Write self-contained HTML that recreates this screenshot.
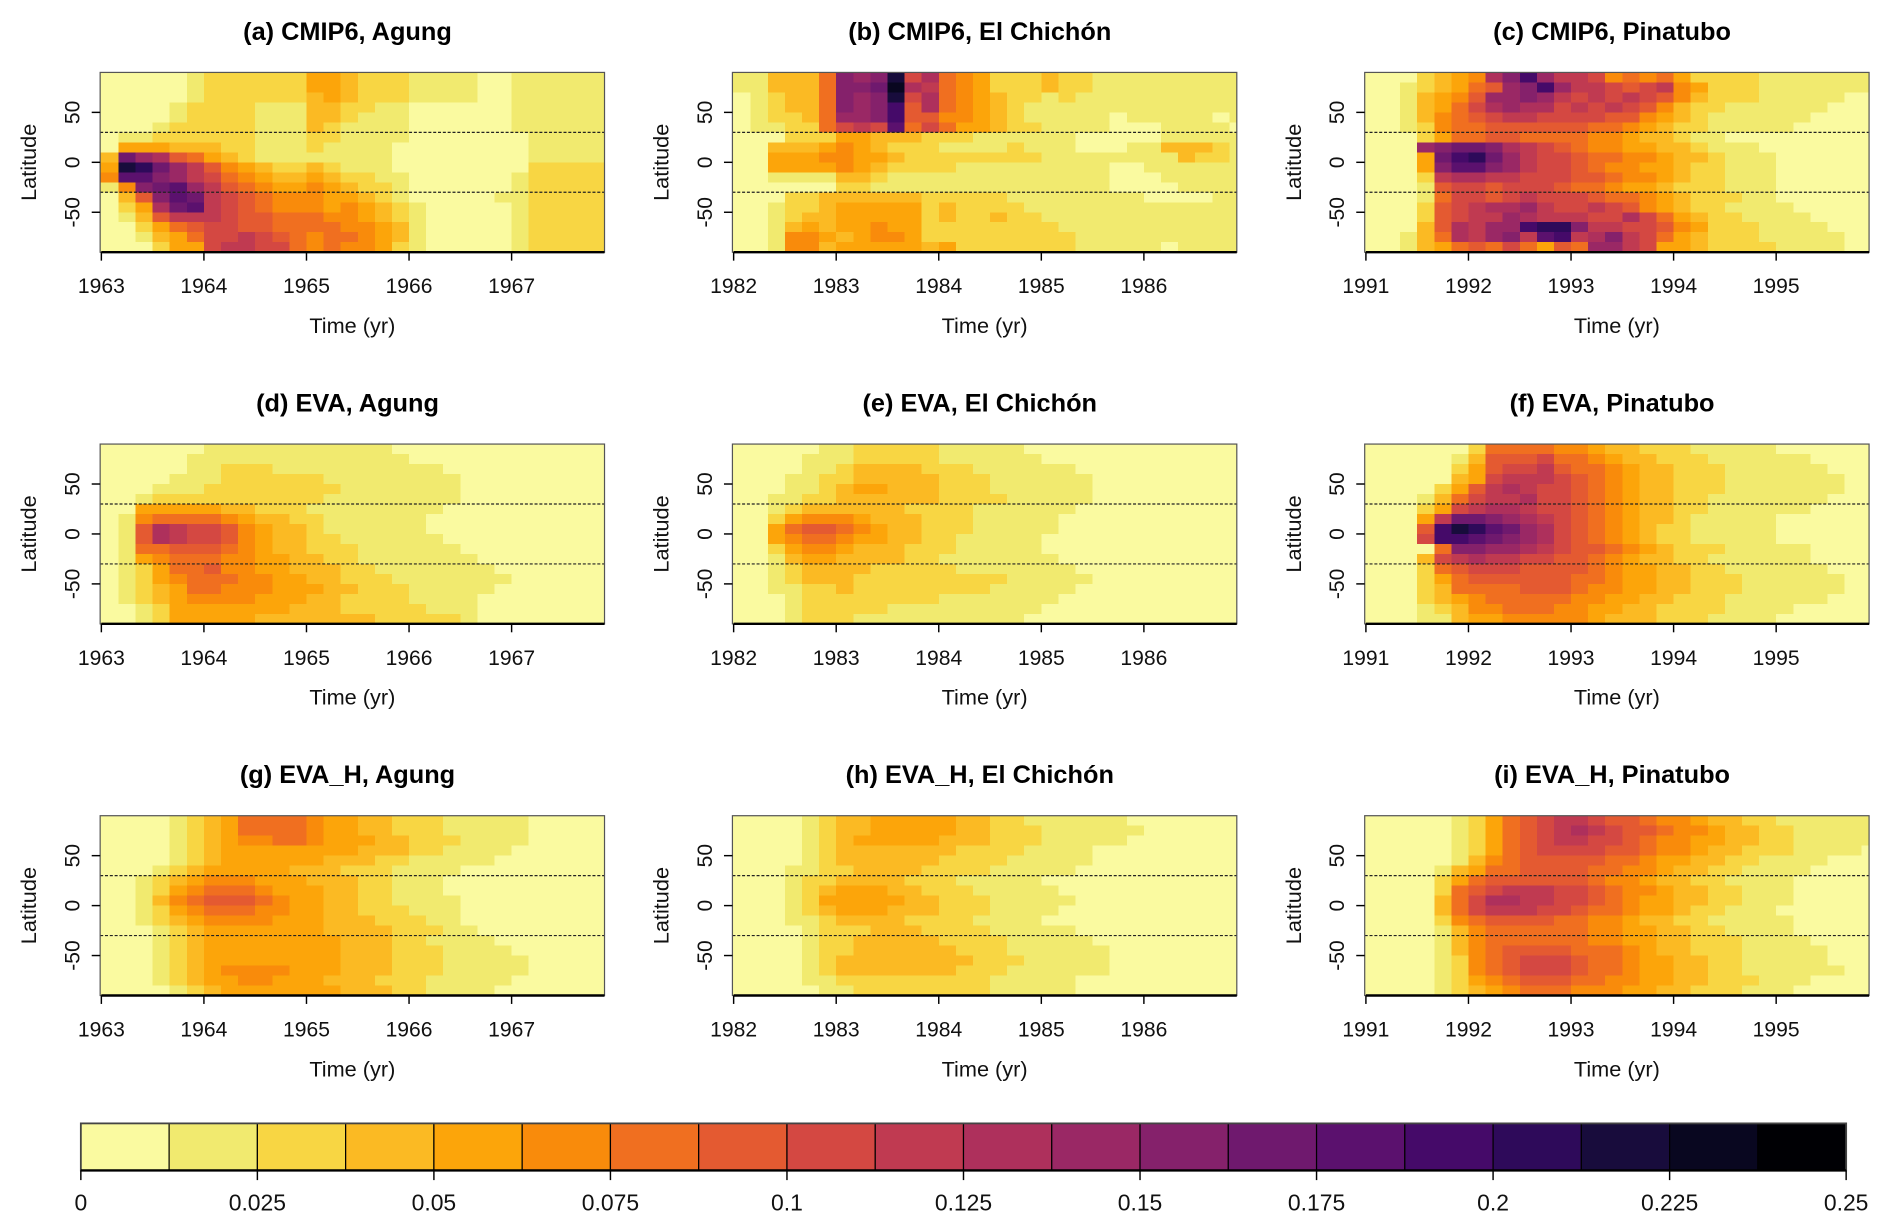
<!DOCTYPE html>
<html><head><meta charset="utf-8"><title>Aerosol optical depth panels</title>
<style>
html,body{margin:0;padding:0;background:#fff;}
svg{display:block;font-family:"Liberation Sans",Arial,sans-serif;}
</style></head>
<body>
<svg id="fig" xmlns="http://www.w3.org/2000/svg" width="1892" height="1229" viewBox="0 0 1568 1018.5">
<rect x="0" y="0" width="1568" height="1018.5" fill="#fff"/>
</svg>
<script>
// ---- chart data (levels: base-20 char, 0..j => bin index of 0.0125 width) ----
const panelTitles = ["(a) CMIP6, Agung","(b) CMIP6, El Chichón","(c) CMIP6, Pinatubo","(d) EVA, Agung","(e) EVA, El Chichón","(f) EVA, Pinatubo","(g) EVA_H, Agung","(h) EVA_H, El Chichón","(i) EVA_H, Pinatubo"];
const startYears = [1963,1982,1991,1963,1982,1991,1963,1982,1991];
const yearTicksOffset = [0,1,2,3,4];
const latTicks = [50,0,-50];
const latLines = [30,-30];
const colorbarTicks = ["0","0.025","0.05","0.075","0.1","0.125","0.15","0.175","0.2","0.225","0.25"];
const levelColors = ["#FAFAA0","#F1EA6F","#F8D643","#FBBA23","#FCA50A","#F98B0B","#F06F20","#E45A31","#D44842","#C03A51","#AE305C","#9A2865","#85216B","#6F196E","#5B116E","#450A69","#2E0A5A","#180C3C","#090720","#000004"];
const panelA = [
"000001222222443222111100111111","000001222222443222111100111111","000001222222343222111100111111","000012222111332211000000111111","000012222111332111000000111111","000122222111321111000000111111","011222222111221111000000011111","044433322111211110000000011111","3dba76432111111110000000011111","4hgdb9754322321110000000022222","5eecb9865433432211000000122222","15cdeb976544543221000000122222","037ced987655544321000001122222","024ade987655545432100000122222","013799987766655432100000122222","002467887766665543100000122222","001346889876566543100000122222","000244899886565542100000122222"];
const panelB = [
"113336cbch8a654222322111111111","113336ccdia9654222322111111111","012336cbch8a654322121111111111","012336cbcf7a654321111111111111","012236bbcf77554321111101111101","011226898e68644322111100011110","000222443332221111110000011111","003334543222111121110001133321","004445544322222222111111113221","004444543222211111111100111111","001111332111111111111100011111","000000221111111111111100001111","000223333332222211111111000011","001223444442322221111111111111","001233444442322322111111111111","001343445442222222211111111111","001554345542222222221111111111","001553444443422222221111101111"];
const panelC = [
"0002345acfb9985656422221111111","00123467bcfb998789542221111111","0013457bbcb9898987532221111100","0013468abaa8989875322111111000","0013567899888877543211111100000","0012566777777665432211111000000","0002466776666554332110000000000","000bcddca98765544332111000000","0004dfgdb98876655433211100000","0004ceecb98876554432211100000","00029aa99888776554322111000000","000178878887665443222111000000","000168878988876654322211000000","0002789aab98898754322111100000","00027899ba99988a86432211110000","00037a9bbfggc99887542221111000","00136a9bc9ef9ac986432221111100","0013467686476bb984432222111100"];
const panelD = [
"0000001111111111100000000000000","0000011111111111110000000000000","0000011222111111111100000000000","0000111222222111111110000000000","0001112222222211111110000000000","0012222222222111111110000000000","0044444332221111111100000000000","0156666543322111111000000000000","017a988754332111111000000000000","017a988754332211111100000000000","0166777654332221111110000000000","0145666554433221111111000000000","0124667554433322111111100000000","0124566655443322211111110000000","0123466555444332221111100000000","0123455554443322221111000000000","0012444444433322222111000000000","0012444443333333222221000000000"];
const panelE = [
"0000011222221111100000000000000","0000111222221111110000000000000","0000112333322211111100000000000","0001122333332221111110000000000","0001123443332221111110000000000","0011223333332222111110000000000","0012333333222211111100000000000","0024555433322211111000000000000","0046776543322211111000000000000","0045665443322111110000000000000","0024554333222111110000000000000","0013443333221111111000000000000","0012333322222111111100000000000","0012333222222222111110000000000","0011223222222221111100000000000","0001222222221111111000000000000","0001222221111111110000000000000","0001222111111111100000000000000"];
const panelF = [
"00000026666554332221111100000","00000137778665433222111111000","00000247889766543322211111100","00000348999876543322211111110","00002479a98876543322211111110","000136899a8876543322111111100","0002489aa98876543322111111000","00049ddcba9876543321111100000","0007fhgedba876543221111100000","0008ffedcba876543221111100000","00006ccbba98776543222111110000","000389a99887765433221111110000","000267888777765443322111111000","000246777777665443322211111100","000236666777655443322211111100","000234566666554433222111111000","000123556665544332222111100000","000113445555543332221111000000"];
const panelG = [
"00001234666654433222111110000000","00001234666654433222111110000000","00001234556654443322211110000000","00001234444444433322111100000000","00001234444443332211111000000000","00012344444333222111100000000000","00123455544433322111000000000000","00124566654443322111000000000000","00135677765443322111100000000000","00124566655443322211100000000000","00123455554443332221100000000000","00012344444443333222110000000000","00012344444444333221111000000000","00012344444444333222111100000000","00012344444444333222111110000000","00012345555444333222111110000000","00012344554443332221111100000000","00001234444444333221111000000000"];
const panelH = [
"00001233444443322111111000000000","00001233444443322211111100000000","00001234444433322211111000000000","00001233333332222111100000000000","00001233333322221111100000000000","00011223333222211111000000000000","00012233332221111100000000000000","00012344433222111110000000000000","00012444443322211111000000000000","00012344433322211110000000000000","00011233332222111100000000000000","00001222333222211111000000000000","00001223333322221111100000000000","00001223333332221111110000000000","00001233333333222111110000000000","00001233333332221111110000000000","00001122222222211111000000000000","00000112222222211111000000000000"];
const panelI = [
"00000124678998776554332211111100","000001246789a9877655433221111110","00000124678998876554433221111100","00000124678888776554332221111000","00000135677777665443322111100000","00001346677776655433221111000000","00002467777776554332211110000000","00002678999887655433221110000000","0000368aa99887654433221110000000","00003689998876654432211100000000","00002567777665543322111110000000","00001356666665544332211110000000","00001356666665544332221111000000","00001356777766654332221111100000","00001256788876654433221111100000","00001256788876654433221111110000","00001245677766554433222111000000","00001234566655544332221110000000"];
const panels = [panelA,panelB,panelC,panelD,panelE,panelF,panelG,panelH,panelI];

// ---- layout ----
const NS = "http://www.w3.org/2000/svg";
const svg = document.getElementById("fig");
const colX = [83,607,1131], rowY = [60,368,676];
const PW = 418, PH = 149, PXYR = 85, NCOL = 30, MONTHS_PER_COL = 2;
function mk(tag, attrs, parent){ const e=document.createElementNS(NS,tag); for(const k in attrs) e.setAttribute(k,attrs[k]); (parent||svg).appendChild(e); return e; }

panels.forEach((rows, p) => {
  const x0 = colX[p%3], y0 = rowY[Math.floor(p/3)], yr0 = startYears[p];
  const xScale = yr => x0 + 1 + (yr - yr0) * PXYR;
  const yScale = lat => y0 + (90 - lat) / 180 * PH;
  const g = mk("g", {});
  
  
  const clipId = "clip" + p;
  const cp = mk("clipPath", {id: clipId}, g);
  mk("rect", {x: x0, y: y0, width: PW, height: PH}, cp);
  const cells = mk("g", {"clip-path": "url(#" + clipId + ")", "shape-rendering": "crispEdges"}, g);
  
  
  const nLat = rows.length, dLat = 180 / nLat;
  rows.forEach((str, r) => {
    const latTop = 90 - r * dLat, latBot = latTop - dLat;
    for (let c = 0; c < NCOL; c++) {
      const ch = c < str.length ? str[c] : str[str.length-1];
      const lvl = Math.min(19, parseInt(ch, 20) || 0);
      const t0 = yr0 + c * MONTHS_PER_COL / 12, t1 = t0 + MONTHS_PER_COL / 12;
      const xa = xScale(t0), xb = xScale(t1);
      const rc = mk("rect", {x: xa - (c===0?1:0), y: yScale(latTop), width: xb - xa + 0.6 + (c===0?1:0), height: yScale(latBot) - yScale(latTop) + 0.6, fill: levelColors[lvl]}, cells);
      
      
    }
  });
  latLines.forEach(l => {
    const dl = mk("line", {x1: x0, x2: x0 + PW, y1: yScale(l), y2: yScale(l), stroke: "#222", "stroke-width": 1, "stroke-dasharray": "2.5,1.5"}, g);
    
    
  });
  const frame = mk("rect", {x: x0, y: y0, width: PW, height: PH, fill: "none", stroke: "#555", "stroke-width": 1}, g);
  
  
  const xAxis = mk("line", {x1: xScale(yr0), x2: x0 + PW, y1: y0 + PH, y2: y0 + PH, stroke: "#000", "stroke-width": 2}, g);
  
  
  yearTicksOffset.forEach(o => {
    const xx = xScale(yr0 + o);
    mk("line", {x1: xx, x2: xx, y1: y0 + PH, y2: y0 + PH + 7, stroke: "#000", "stroke-width": 1.2}, g);
    const t = mk("text", {x: xx, y: y0 + PH + 34, "text-anchor": "middle", "font-size": 17.5, fill: "#111"}, g);
    t.textContent = String(yr0 + o);
    
    
  });
  latTicks.forEach(l => {
    const yy = yScale(l);
    mk("line", {x1: x0 - 7, x2: x0, y1: yy, y2: yy, stroke: "#000", "stroke-width": 1.2}, g);
    const t = mk("text", {x: 0, y: 0, "text-anchor": "middle", "font-size": 17.5, fill: "#111", transform: "translate(" + (x0 - 17) + "," + yy + ") rotate(-90)"}, g);
    t.textContent = String(l);
    
    
  });
  const yl = mk("text", {x: 0, y: 0, "text-anchor": "middle", "font-size": 18, fill: "#111", transform: "translate(" + (x0 - 53) + "," + (y0 + PH/2) + ") rotate(-90)"}, g);
  yl.textContent = "Latitude";
  
  
  const xl = mk("text", {x: x0 + 209, y: y0 + PH + 67, "text-anchor": "middle", "font-size": 18, fill: "#111"}, g);
  xl.textContent = "Time (yr)";
  
  
  const tt = mk("text", {x: x0 + 205, y: y0 - 27, "text-anchor": "middle", "font-size": 21, "font-weight": "bold", fill: "#000"}, g);
  tt.textContent = panelTitles[p];
  
  
});

// ---- colorbar ----
const cbX0 = 67, cbX1 = 1530, cbY0 = 931, cbY1 = 970;
const cbW = (cbX1 - cbX0) / levelColors.length;
const cb = mk("g", {});


levelColors.forEach((c, i) => {
  const r = mk("rect", {x: cbX0 + i * cbW, y: cbY0, width: cbW, height: cbY1 - cbY0, fill: c, stroke: "#000", "stroke-width": 1}, cb);
  
  
});
mk("rect", {x: cbX0, y: cbY0, width: cbX1 - cbX0, height: cbY1 - cbY0, fill: "none", stroke: "#444", "stroke-width": 1.5}, cb);
mk("line", {x1: cbX0, x2: cbX1, y1: cbY1, y2: cbY1, stroke: "#000", "stroke-width": 2}, cb);
colorbarTicks.forEach((lab, i) => {
  const xx = cbX0 + i * 2 * cbW;
  mk("line", {x1: xx, x2: xx, y1: cbY1, y2: cbY1 + 8, stroke: "#000", "stroke-width": 1.2}, cb);
  const t = mk("text", {x: xx, y: cbY1 + 33, "text-anchor": "middle", "font-size": 19, fill: "#111"}, cb);
  t.textContent = lab;
  
  
});
</script>
</body></html>
